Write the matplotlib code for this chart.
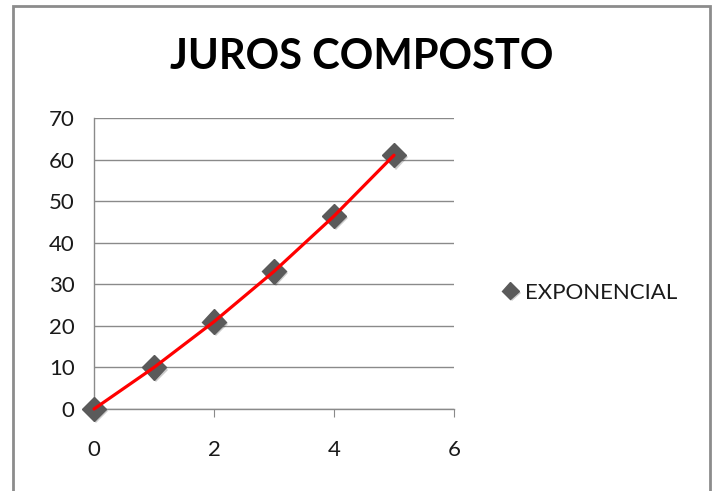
import matplotlib
matplotlib.use("Agg")
import matplotlib.pyplot as plt
import matplotlib.patheffects as pe
from matplotlib.patches import Rectangle

# data (compound interest, 10% per period)
periods = [0, 1, 2, 3, 4, 5]
juros = [0, 10, 21, 33.1, 46.41, 61.05]
x_ticks = [0, 2, 4, 6]
y_ticks = [0, 10, 20, 30, 40, 50, 60, 70]

plt.rcParams['font.family'] = ['Lato', 'DejaVu Sans']

fig = plt.figure(figsize=(7.18, 4.91), dpi=100)
ax = fig.add_axes([94 / 718, 82 / 491, 360 / 718, 291 / 491])

grid_col = '#8a8a8a'

# red connecting line
ax.plot(periods, juros, color='#ff0000', lw=2.3, zorder=4, solid_capstyle='round',
        clip_on=False)
# grey diamond markers with a soft shadow
ax.plot(periods, juros, linestyle='none', marker='D', ms=12.5, color='#5a5a5a',
        mec='#5a5a5a', zorder=3, label='EXPONENCIAL', clip_on=False,
        path_effects=[pe.SimplePatchShadow(offset=(1.5, -1.5), alpha=0.22), pe.Normal()])

ax.set_xlim(0, 6)
ax.set_ylim(0, 70)
ax.set_xticks(x_ticks)
ax.set_yticks(y_ticks)
ax.yaxis.grid(True, color=grid_col, lw=1.0)
ax.set_axisbelow(True)

for s in ['top', 'right']:
    ax.spines[s].set_visible(False)
for s in ['left', 'bottom']:
    ax.spines[s].set_color(grid_col)
    ax.spines[s].set_linewidth(1.0)

ax.tick_params(axis='x', direction='out', length=6, color=grid_col, pad=16,
               labelsize=16, labelcolor='#1a1a1a')
ax.tick_params(axis='y', length=0, pad=14, labelsize=16, labelcolor='#1a1a1a')

fig.text(0.5035, 0.883, 'JUROS COMPOSTO', ha='center', va='center',
         fontsize=30, fontweight='bold', color='black')

leg = ax.legend(loc='center left', bbox_to_anchor=(1.085, 0.40), frameon=False,
                fontsize=16, handlelength=0.5, handletextpad=0.4, markerscale=0.7)
for t in leg.get_texts():
    t.set_color('#1a1a1a')

# chart outer border (bottom edge cut off in the original)
fig.patches.append(Rectangle((13 / 718, -0.05), 697 / 718, 1.05 - 6 / 491,
                             transform=fig.transFigure, fill=False,
                             edgecolor='#8c8c8c', lw=2, zorder=0))

fig.savefig('out.png', dpi=100)
